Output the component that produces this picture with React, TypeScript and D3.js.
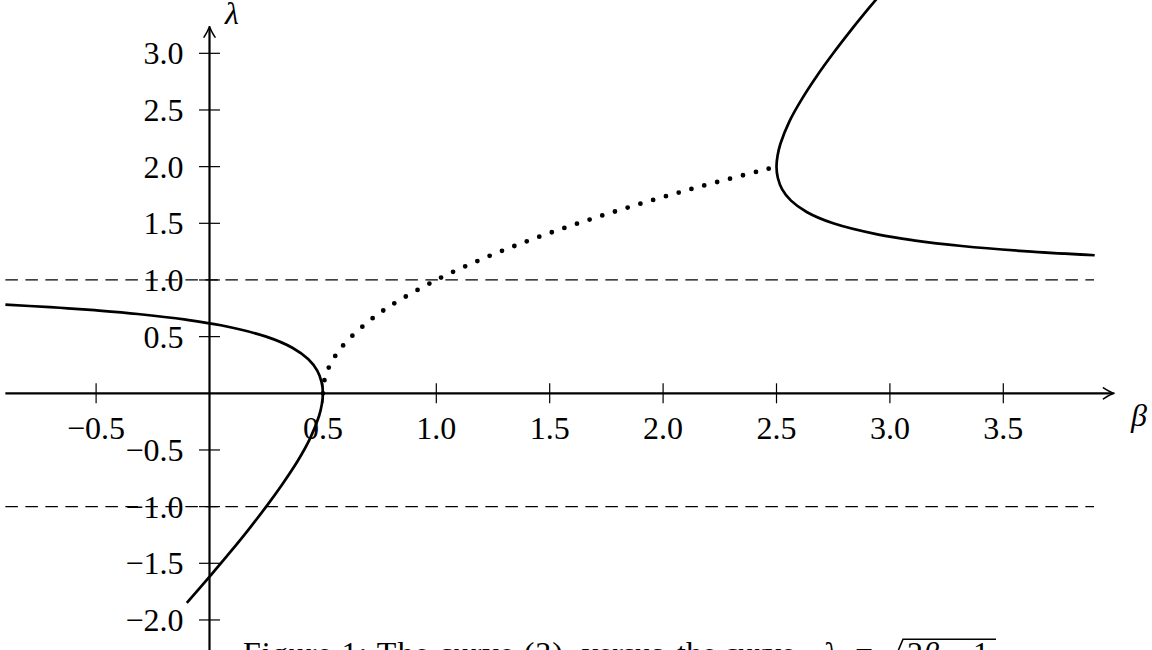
import React from "react";
import * as d3 from "d3";

// ---- data ----
// left solid branch: [beta, lambda]
const leftBranch: [number, number][] = [
  [-0.9, 0.782], [-0.703, 0.76], [-0.625, 0.75], [-0.487, 0.73], [-0.317, 0.7],
  [-0.104, 0.65], [0.05, 0.6], [0.25, 0.5], [0.367, 0.4], [0.436, 0.3],
  [0.475, 0.2], [0.494, 0.1], [0.5, 0.0], [0.495, -0.1], [0.483, -0.2],
  [0.443, -0.4], [0.388, -0.6], [0.322, -0.8], [0.25, -1.0], [0.173, -1.2],
  [0.092, -1.4], [0.008, -1.6], [-0.1, -1.85],
];
// right solid branch: [beta, lambda]
const rightBranch: [number, number][] = [
  [3.903, 1.218], [3.625, 1.25], [3.317, 1.3], [3.104, 1.35], [2.95, 1.4],
  [2.75, 1.5], [2.633, 1.6], [2.564, 1.7], [2.525, 1.8], [2.506, 1.9],
  [2.5, 2.0], [2.505, 2.1], [2.517, 2.2], [2.557, 2.4], [2.613, 2.6],
  [2.678, 2.8], [2.75, 3.0], [2.827, 3.2], [2.908, 3.4], [2.992, 3.6],
];
// dotted curve lambda = sqrt(2 beta - 1): [beta, lambda]
const dottedCurve: [number, number][] = [
  [0.5, 0.0], [0.505, 0.1], [0.52, 0.2], [0.55, 0.316], [0.6, 0.447],
  [0.7, 0.632], [0.8, 0.775], [1.0, 1.0], [1.2, 1.183], [1.4, 1.342],
  [1.6, 1.483], [1.8, 1.612], [2.0, 1.732], [2.2, 1.844], [2.5, 2.0],
];
const dashedLevels = [1, -1];
const xTicks = [-0.5, 0.5, 1.0, 1.5, 2.0, 2.5, 3.0, 3.5];
const yTicks = [-2.0, -1.5, -1.0, -0.5, 0.5, 1.0, 1.5, 2.0, 2.5, 3.0];
const betaRange = [-0.9, 3.9];
const xAxisRange = [-0.9, 3.99];
const yAxisRange = [-2.4, 3.24];

const fmt = (v: number) => (v < 0 ? "\u2212" : "") + Math.abs(v).toFixed(1);

export default function App() {
  const W = 1152, H = 650;
  const x0 = 209.5, kx = 226.8;
  const y0 = 393.3, ky = 113.33;
  const x = d3.scaleLinear().domain([0, 1]).range([x0, x0 + kx]);
  const y = d3.scaleLinear().domain([0, 1]).range([y0, y0 - ky]);

  const line = d3
    .line<[number, number]>()
    .x((d) => x(d[0]))
    .y((d) => y(d[1]))
    .curve(d3.curveCatmullRom.alpha(0.5));

  const font = "'Liberation Serif', 'Times New Roman', serif";
  const fs = 32;

  const xa0 = x(xAxisRange[0]), xa1 = x(xAxisRange[1]);
  const ya0 = y(yAxisRange[0]), ya1 = y(yAxisRange[1]);

  return (
    <svg
      width={W}
      height={H}
      style={{ position: "absolute", left: 0, top: 0, background: "#fff" }}
      fontFamily={font}
    >
      <rect x={0} y={0} width={W} height={H} fill="#fff" />
      {/* dashed levels */}
      {dashedLevels.map((v) => (
        <line
          key={"d" + v}
          x1={x(betaRange[0])}
          x2={x(betaRange[1])}
          y1={y(v)}
          y2={y(v)}
          stroke="#000"
          strokeWidth={1.3}
          strokeDasharray="12.5 7.5"
        />
      ))}
      {/* axes */}
      <line x1={xa0} x2={xa1 - 2} y1={y0} y2={y0} stroke="#000" strokeWidth={2.2} />
      <path
        d={`M${xa1 - 11},${y0 - 5.5} Q${xa1 - 4},${y0 - 1} ${xa1},${y0} Q${xa1 - 4},${y0 + 1} ${xa1 - 11},${y0 + 5.5}`}
        fill="none"
        stroke="#000"
        strokeWidth={1.6}
        strokeLinecap="round"
      />
      <line x1={x0} x2={x0} y1={ya0} y2={ya1 + 2} stroke="#000" strokeWidth={2.2} />
      <path
        d={`M${x0 - 5.5},${ya1 + 11} Q${x0 - 1},${ya1 + 4} ${x0},${ya1} Q${x0 + 1},${ya1 + 4} ${x0 + 5.5},${ya1 + 11}`}
        fill="none"
        stroke="#000"
        strokeWidth={1.6}
        strokeLinecap="round"
      />
      {/* x ticks */}
      {xTicks.map((t) => (
        <g key={"xt" + t}>
          <line x1={x(t)} x2={x(t)} y1={y0 - 10} y2={y0 + 10} stroke="#000" strokeWidth={1.2} />
          <text x={x(t)} y={y0 + 46} fontSize={fs} textAnchor="middle">
            {fmt(t)}
          </text>
        </g>
      ))}
      {/* y ticks */}
      {yTicks.map((t) => (
        <g key={"yt" + t}>
          <line x1={x0 - 10.5} x2={x0 + 10.5} y1={y(t)} y2={y(t)} stroke="#000" strokeWidth={1.2} />
          <text x={183.5} y={y(t) + 11} fontSize={fs} textAnchor="end">
            {fmt(t)}
          </text>
        </g>
      ))}
      {/* curves */}
      <path d={line(leftBranch) || ""} fill="none" stroke="#000" strokeWidth={2.7} />
      <path d={line(rightBranch) || ""} fill="none" stroke="#000" strokeWidth={2.7} />
      <path
        d={line(dottedCurve) || ""}
        fill="none"
        stroke="#000"
        strokeWidth={4.8}
        strokeLinecap="round"
        strokeDasharray="0 13.3"
      />
      {/* axis labels */}
      <text x={232} y={24} fontSize={fs} fontStyle="italic" textAnchor="middle">
        λ
      </text>
      <text x={1139} y={426} fontSize={fs} fontStyle="italic" textAnchor="middle">
        β
      </text>
      {/* caption (cut off at bottom) */}
      <g fontSize={fs}>
        <text x={243} y={664} textLength={320} lengthAdjust="spacing">
          Figure 1: The curve (3)
        </text>
        <text x={582} y={664}>versus</text>
        <text x={677} y={664}>the curve</text>
        <text x={823} y={664} fontStyle="italic">λ</text>
        <text x={855} y={664}>=</text>
        <path d="M873,655 L880,651 L890,670 L903,639.3 H996" fill="none" stroke="#000" strokeWidth={1.6} />
        <text x={907} y={664}>
          2<tspan fontStyle="italic">β</tspan> {"\u2212"} 1
        </text>
      </g>
    </svg>
  );
}
